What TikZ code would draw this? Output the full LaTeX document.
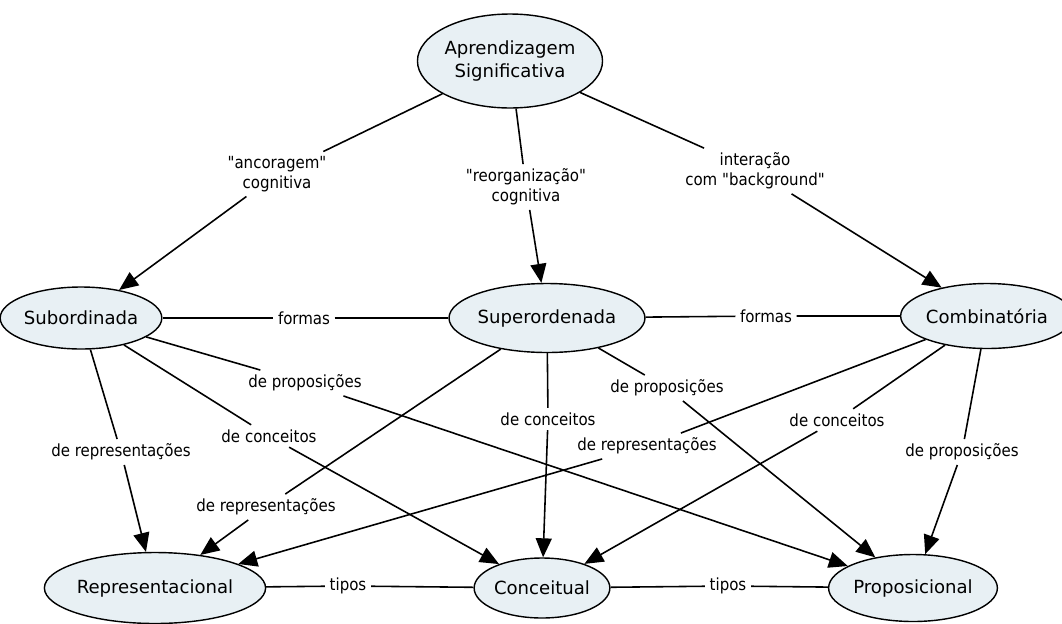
\documentclass[tikz,border=0pt]{standalone}
\usepackage{fontspec}
\setmainfont{DejaVu Sans}
\newfontfamily\condfont{DejaVu Sans Condensed}
\usetikzlibrary{shapes.geometric,arrows.meta}
\definecolor{conceptfill}{RGB}{232,240,244}

\begin{document}
\begin{tikzpicture}[x=0.02cm,y=-0.02cm,
    concept/.style={shape=ellipse,draw=black,line width=0.8pt,fill=conceptfill,inner sep=0pt,align=center,font=\fontsize{10.3}{13.6}\selectfont},
    linking/.style={inner sep=2.5pt,align=center,font=\condfont\fontsize{9.5}{11.3}\selectfont},
    link/.style={line width=0.9pt},
    arrowlink/.style={line width=0.9pt,-{Triangle[length=0.38cm,width=0.32cm]}}]
                    \useasboundingbox (0,0) rectangle (1062,623);

                    \node[concept,minimum width=3.55cm,minimum height=1.88cm] (AS) at (510,61) {Aprendizagem\\Significativa};
                    \node[concept,minimum width=2.9cm,minimum height=1.24cm] (SUB) at (81,318) {Subordinada};
                    \node[concept,minimum width=3.5cm,minimum height=1.38cm] (SUP) at (547,318) {Superordenada};
                    \node[concept,minimum width=2.95cm,minimum height=1.3cm] (COMB) at (987,316) {Combinatória};
                    \node[concept,minimum width=3.7cm,minimum height=1.42cm] (REP) at (155,588) {Representacional};
                    \node[concept,minimum width=2.6cm,minimum height=1.2cm] (CONC) at (542,588) {Conceitual};
                    \node[concept,minimum width=2.95cm,minimum height=1.34cm] (PROP) at (913,588) {Proposicional};

                    \node[linking] (anc) at (277,174) {"ancoragem"\\cognitiva};
                    \node[linking] (reo) at (526,187) {"reorganização"\\cognitiva};
                    \node[linking] (inter) at (755,171) {interação\\com "background"};
                    \node[linking] (frm1) at (304,318) {formas};
                    \node[linking] (frm2) at (766,316) {formas};
                    \node[linking] (subrep) at (121,452) {de representações};
                    \node[linking] (subconc) at (269,436) {de conceitos};
                    \node[linking] (subprop) at (305,383) {de proposições};
                    \node[linking] (suprep) at (266,507) {de representações};
                    \node[linking] (supconc) at (548,419) {de conceitos};
                    \node[linking] (supprop) at (667,388) {de proposições};
                    \node[linking] (combrep) at (647,446) {de representações};
                    \node[linking] (combconc) at (837,420) {de conceitos};
                    \node[linking] (combprop) at (962,452) {de proposições};
                    \node[linking] (tip1) at (348,586) {tipos};
                    \node[linking] (tip2) at (728,586) {tipos};

                    \draw[arrowlink] (AS) -- (anc) -- (SUB);
                    \draw[arrowlink] (AS) -- (reo) -- (SUP);
                    \draw[arrowlink] (AS) -- (inter) -- (COMB);
                    \draw[link] (SUB) -- (frm1) -- (SUP);
                    \draw[link] (SUP) -- (frm2) -- (COMB);
                    \draw[arrowlink] (SUB) -- (subrep) -- (REP);
                    \draw[arrowlink] (SUB) -- (subconc) -- (CONC);
                    \draw[arrowlink] (SUB) -- (subprop) -- (PROP);
                    \draw[arrowlink] (SUP) -- (suprep) -- (REP);
                    \draw[arrowlink] (SUP) -- (supconc) -- (CONC);
                    \draw[arrowlink] (SUP) -- (supprop) -- (PROP);
                    \draw[arrowlink] (COMB) -- (combrep) -- (REP);
                    \draw[arrowlink] (COMB) -- (combconc) -- (CONC);
                    \draw[arrowlink] (COMB) -- (combprop) -- (PROP);
                    \draw[link] (REP) -- (tip1) -- (CONC);
                    \draw[link] (CONC) -- (tip2) -- (PROP);
                \end{tikzpicture}
\end{document}
